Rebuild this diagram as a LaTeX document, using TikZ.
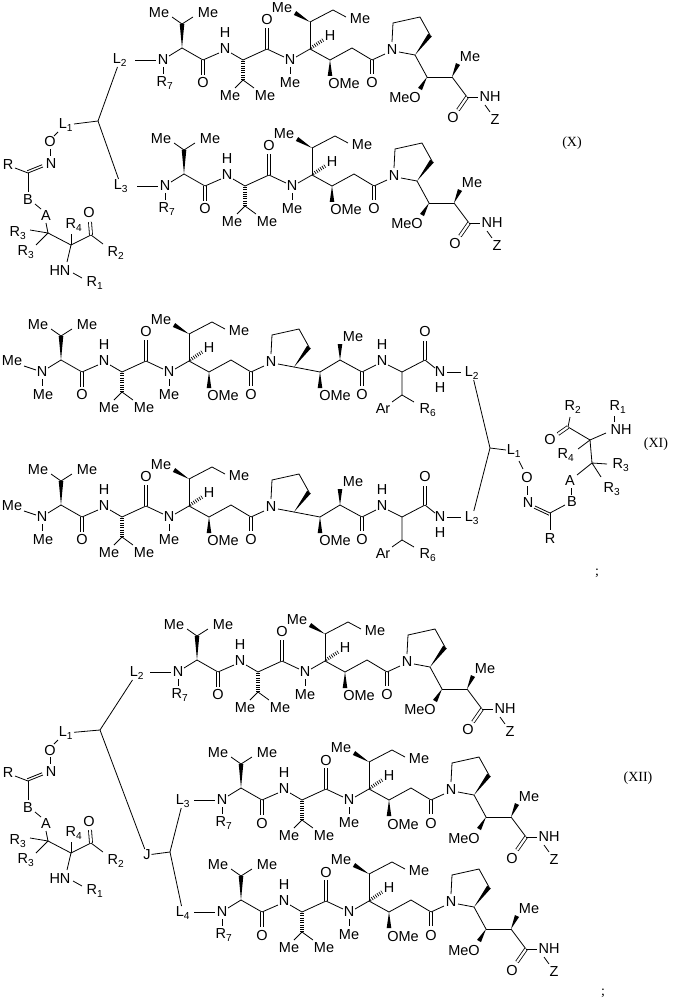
\documentclass[tikz,border=0pt]{standalone}
\usepackage{fontspec}
\setmainfont{Liberation Sans}
\newfontfamily\serifff{Liberation Serif}
\usetikzlibrary{calc}
\newcommand\ssub[1]{\textsubscript{#1}}
\newcommand\wdg[2]{\fill #1 -- ($#2!2.3pt!90:#1$) -- ($#2!2.3pt!-90:#1$) -- cycle;}
\tikzset{
  lab/.style={inner sep=0.5pt,font=\fontsize{14.5}{14.5}\selectfont},
  hsh/.style={line width=3.6pt,dash pattern=on 0.7pt off 1.6pt},
  dbl/.style={double,double distance=2.2pt,line width=0.8pt},
  tag/.style={inner sep=0pt,font=\serifff\fontsize{14}{14}\selectfont},
  core/.pic={
    \draw (6,-4)--(19,-12);
    \wdg{(19,-12)}{(19,-36)}
    \draw (19,-36)--(9,-43) (19,-36)--(30,-43);
    \node[lab] at (-4,-47) {Me}; \node[lab] at (45,-47) {Me};
    \draw (19,-12)--(40,0);
    \draw[dbl] (40,0)--(40,15); \node[lab] at (40,23) {O};
    \draw (40,0)--(56,-7);
    \node[lab] at (62,-11) {N}; \node[lab] at (62,-27) {H};
    \draw (68,-7)--(80,0);
    \draw[hsh] (80,1)--(80,20);
    \draw (80,20)--(72,28) (80,20)--(91,28);
    \node[lab] at (67,36) {Me}; \node[lab] at (102,36) {Me};
    \draw (80,0)--(104,-11);
    \draw[dbl] (104,-11)--(104,-32); \node[lab] at (104,-40) {O};
    \draw (104,-11)--(121,-3);
    \node[lab] at (127,0) {N};
    \draw (127,7)--(127,14); \node[lab] at (127,23) {Me};
    \draw (133,-3)--(147,-11);
    \draw[hsh] (148,-12)--(160,-20); \node[lab] at (167,-24) {H};
    \draw (147,-11)--(147,-38);
    \wdg{(147,-38)}{(132,-47)}
    \node[lab] at (119,-52) {Me};
    \draw (147,-38)--(170,-50)--(183,-43);
    \node[lab] at (197,-41) {Me};
    \draw (147,-11)--(167,0);
    \wdg{(167,0)}{(167,16)}
    \node[lab] at (181,24) {OMe};
    \draw (167,0)--(189,-12)--(209,0);
    \draw[dbl] (209,0)--(209,14); \node[lab] at (209,23) {O};
    \draw (209,0)--(222,-6);
    \node[lab] at (229,-10) {N};
    \draw (229,-18)--(230,-37)--(257,-43)--(267,-25);
    \wdg{(252,-5)}{(267,-25)}
    \draw (252,-5)--(236,-8);
  },
  ztail/.pic={
    \draw (252,-5)--(264,17);
    \wdg{(264,17)}{(257,29)}
    \node[lab] at (242,38) {MeO};
    \draw (264,17)--(289,17);
    \wdg{(289,17)}{(295,4)}
    \node[lab] at (307,-3) {Me};
    \draw (289,17)--(304,37);
    \draw[dbl] (304,37)--(295,50); \node[lab] at (290,58) {O};
    \draw (304,37)--(315,37);
    \node[lab] at (327,37) {NH};
    \draw (322,45)--(327,52); \node[lab] at (332,60) {Z};
  },
  zhead/.pic={
    \node[lab] at (0,0) {N};
    \draw (0,7)--(0,14); \node[lab] at (2,23) {R\ssub{7}};
    \draw (-28,0)--(-7,0);
  },
  zchain/.pic={\pic{core}; \pic{ztail}; \pic{zhead};},
  archain/.pic={
    \pic{core};
    \node[lab] at (0,0) {N};
    \draw (0,7)--(0,14); \node[lab] at (1,23) {Me};
    \draw (-18,-6)--(-6,-2); \node[lab] at (-30,-11) {Me};
    \draw (252,-5)--(278,0);
    \wdg{(278,0)}{(278,16)}
    \node[lab] at (293,24) {OMe};
    \draw (278,0)--(298,-12);
    \wdg{(298,-12)}{(298,-28)}
    \node[lab] at (311,-35) {Me};
    \draw (298,-12)--(320,0);
    \draw[dbl] (320,0)--(320,14); \node[lab] at (320,23) {O};
    \draw (320,0)--(334,-7);
    \node[lab] at (340,-11) {N}; \node[lab] at (340,-27) {H};
    \draw (346,-7)--(360,0)--(360,23);
    \draw (360,23)--(350,30) (360,23)--(372,30);
    \node[lab] at (341,37) {Ar}; \node[lab] at (386,38) {R\ssub{6}};
    \draw (360,0)--(383,-12);
    \draw[dbl] (383,-12)--(383,-31); \node[lab] at (383,-40) {O};
    \draw (383,-12)--(393,-4);
    \node[lab] at (398,0) {N}; \node[lab] at (398,16) {H};
    \draw (405,0)--(419,0);
  },
  frag/.pic={
    \draw (-8,7)--(-12,11);
    \node[lab] at (-16,17) {O};
    \draw (-16,24)--(-16,31);
    \node[lab] at (-15,39) {N};
    \draw (-38,48)--(-23,42);
    \draw ($(-38,48)!2.4pt!90:(-23,42)$)--($(-23,42)!2.4pt!-90:(-38,48)$);
    \node[lab] at (-58,40) {R};
    \draw (-51,43)--(-38,48);
    \draw (-38,48)--(-38,67);
    \node[lab] at (-38,75) {B};
    \draw (-31,79)--(-25,84);
    \node[lab] at (-20,91) {A};
    \draw (-20,98)--(-18,108);
    \draw (-18,108)--(-36,105) (-18,108)--(-30,120);
    \node[lab] at (-48,108) {R\ssub{3}};
    \node[lab] at (-40,127) {R\ssub{3}};
    \draw (-18,108)--(5,120);
    \draw (5,120)--(5,109); \node[lab] at (8,100) {R\ssub{4}};
    \draw (5,120)--(25,110);
    \draw[dbl] (25,110)--(24,97); \node[lab] at (23,88) {O};
    \draw (25,110)--(37,119); \node[lab] at (50,128) {R\ssub{2}};
    \draw (5,120)--(1,137);
    \node[lab] at (-6,146) {HN};
    \draw (7,148)--(16,153); \node[lab] at (29,158) {R\ssub{1}};
  },
}
\begin{document}
\begin{tikzpicture}[x=1pt,y=-1pt,line width=0.8pt]
\useasboundingbox (0,0) rectangle (672,1000);
% ---------- (X)
\pic at (163,60) {zchain};
\pic at (165,186) {zchain};
\node[lab] (xL2) at (120,60) {L\ssub{2}};
\node[lab] (xL3) at (121,186) {L\ssub{3}};
\node[lab] (xL1) at (66,125) {L\ssub{1}};
\coordinate (xb) at (98,121);
\draw (xL2) -- (xb) -- (xL3);
\draw (xL1) -- (xb);
\pic at (66,125) {frag};
\node[tag] (tX) at (572,143) {(X)};
% ---------- (XI)
\pic at (42,372) {archain};
\pic at (42,517) {archain};
\node[lab] (yL2) at (472,373) {L\ssub{2}};
\node[lab] (yL3) at (472,518) {L\ssub{3}};
\node[lab] (yL1) at (514,451) {L\ssub{1}};
\coordinate (yb) at (490,448);
\draw (yL2) -- (yb) -- (yL3);
\draw (yb) -- (yL1);
\draw (519,461)--(523,469);
\node[lab] at (527,478) {O};
\draw (527,486)--(527,495);
\node[lab] at (528,503) {N};
\draw (535,506)--(550,513);
\draw ($(535,506)!2.4pt!-90:(550,513)$)--($(550,513)!2.4pt!90:(535,506)$);
\draw (550,513)--(550,530); \node[lab] at (550,539) {R};
\draw (550,513)--(565,505); \node[lab] at (572,502) {B};
\draw (571,495)--(571,488); \node[lab] at (570,481) {A};
\draw (577,475)--(592,463);
\draw (592,463)--(607,464) (592,463)--(601,477);
\node[lab] at (621,465) {R\ssub{3}}; \node[lab] at (612,489) {R\ssub{3}};
\draw (592,463)--(590,440);
\draw (590,440)--(578,449); \node[lab] at (566,455) {R\ssub{4}};
\draw (590,440)--(606,433); \node[lab] at (621,430) {NH};
\draw (614,422)--(614,416); \node[lab] at (618,407) {R\ssub{1}};
\draw (590,440)--(568,427);
\draw[dbl] (568,427)--(558,434); \node[lab] at (550,440) {O};
\draw (568,427)--(570,417); \node[lab] at (573,407) {R\ssub{2}};
\node[tag] (tXI) at (656,444) {(XI)};
\node[tag] (s1) at (597,573) {;};
% ---------- (XII)
\pic at (178,672) {zchain};
\pic at (222,800) {zchain};
\pic at (222,912) {zchain};
\node[lab] (zL2) at (137,673) {L\ssub{2}};
\node[lab] (zL3) at (183,801) {L\ssub{3}};
\node[lab] (zL4) at (183,913) {L\ssub{4}};
\node[lab] (zL1) at (66,733) {L\ssub{1}};
\node[lab] (zJ) at (147,855) {J};
\coordinate (zb) at (100,730);
\coordinate (zj) at (170,852);
\draw (zL2) -- (zb) -- (zJ);
\draw (zL1) -- (zb);
\draw (zJ) -- (zj);
\draw (zL3) -- (zj) -- (zL4);
\pic at (66,733) {frag};
\node[tag] (tXII) at (638,778) {(XII)};
\node[tag] (s2) at (603,993) {;};
\end{tikzpicture}
\end{document}
